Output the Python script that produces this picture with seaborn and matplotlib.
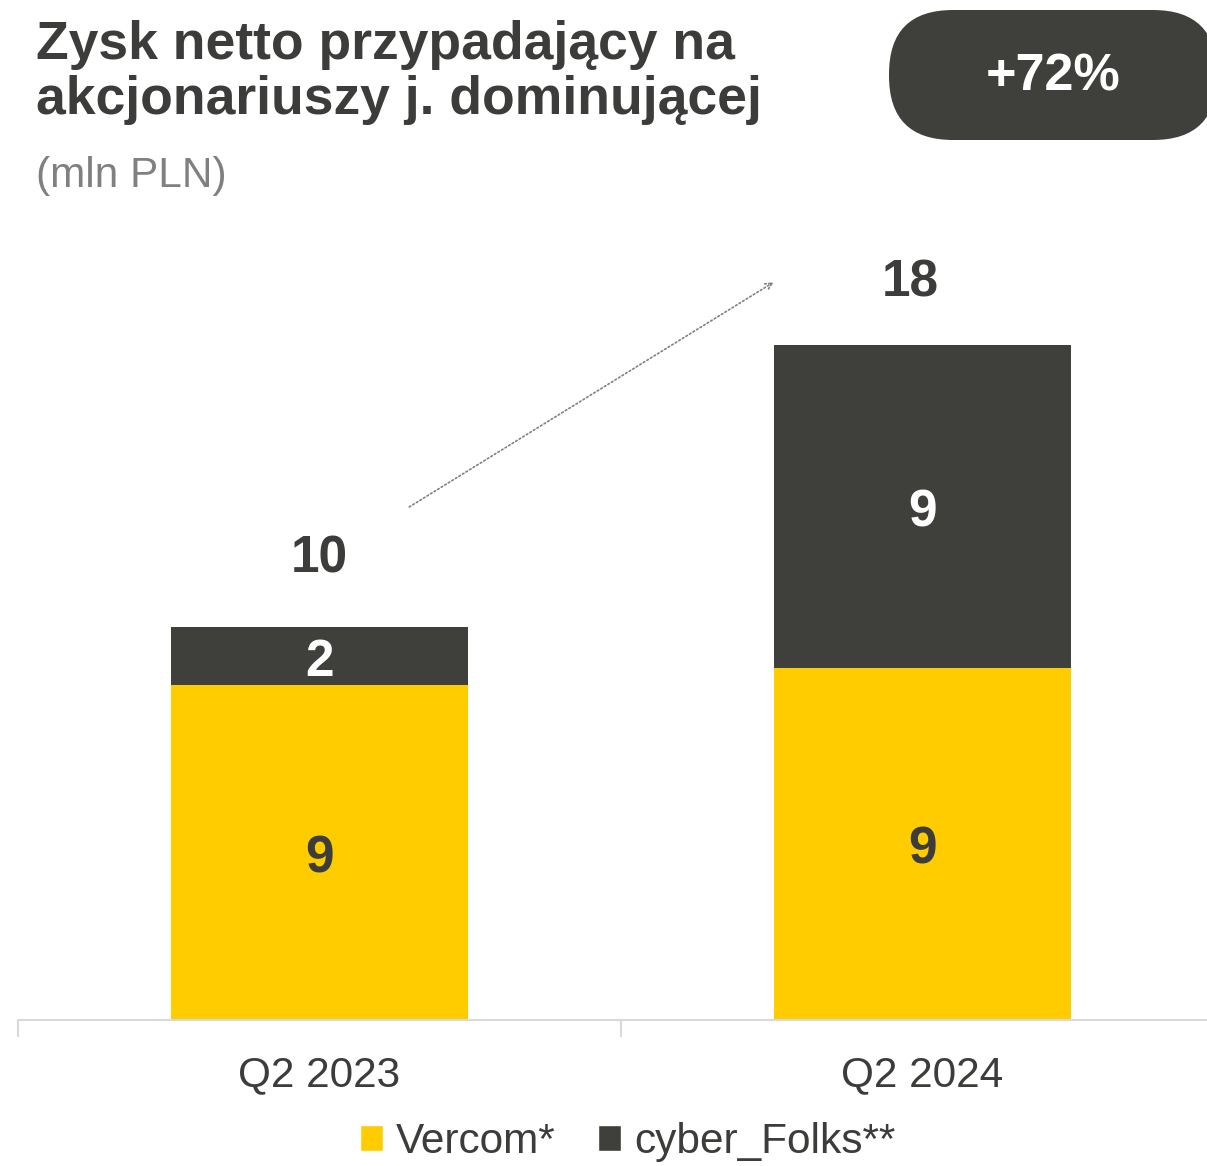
import matplotlib
matplotlib.use('Agg')
import matplotlib.pyplot as plt
import seaborn as sns
from matplotlib.patches import FancyBboxPatch, Patch

quarters = ['Q2 2023', 'Q2 2024']
vercom = [8.9, 9.35]
cyber_folks = [1.55, 8.6]
vercom_labels = ['9', '9']
cyber_labels = ['2', '9']
total_labels = ['10', '18']
growth_label = '+72%'

YELLOW = '#FFCC00'
DARK = '#3F403B'
TEXT = '#3C3C3A'

sns.set_theme(style='white')
plt.rcParams['font.family'] = ['Liberation Sans', 'DejaVu Sans']

totals = [v + c for v, c in zip(vercom, cyber_folks)]

fig = plt.figure(figsize=(12.07, 11.66), dpi=100)
ax = fig.add_axes([18 / 1207, 146 / 1166, 1206 / 1207, 790 / 1166])

sns.barplot(x=quarters, y=totals, color=DARK, width=0.493, saturation=1, linewidth=0, ax=ax)
sns.barplot(x=quarters, y=vercom, color=YELLOW, width=0.493, saturation=1, linewidth=0, ax=ax)

ax.set_xlim(-0.5, 1.5)
ax.set_ylim(0, 21)
for s in ['top', 'right', 'left']:
    ax.spines[s].set_visible(False)
ax.spines['bottom'].set_color('#D9D9D9')
ax.spines['bottom'].set_linewidth(1.5)
ax.set_yticks([])
ax.set_xlabel('')
ax.set_ylabel('')
ax.set_xticks([0, 1])
ax.set_xticklabels(quarters, fontsize=30.5, color=TEXT)
ax.tick_params(axis='x', which='major', length=0, pad=25)
ax.set_xticks([-0.5, 0.5, 1.5], minor=True)
ax.tick_params(axis='x', which='minor', bottom=True, length=12, color='#D9D9D9', width=1.5)

lab_off = 0.16
for i in range(len(quarters)):
    ax.text(i, vercom[i] / 2 - lab_off, vercom_labels[i], ha='center', va='center',
            fontsize=37, fontweight='bold', color=TEXT)
    ax.text(i, vercom[i] + cyber_folks[i] / 2 - lab_off, cyber_labels[i], ha='center', va='center',
            fontsize=37, fontweight='bold', color='white')
ax.text(0, totals[0] + 1.15, total_labels[0], ha='center', va='bottom',
        fontsize=37, fontweight='bold', color=TEXT)
ax.text(0.98, totals[1] + 1.0, total_labels[1], ha='center', va='bottom',
        fontsize=37, fontweight='bold', color=TEXT)

# dotted growth arrow
ax.annotate('', xy=(0.757, 19.65), xytext=(0.145, 13.6),
            arrowprops=dict(arrowstyle='->', linestyle=(0, (1, 1.5)), color='#808080', lw=1.2))

# title and subtitle
fig.text(36 / 1207, 1 - 20 / 1166, 'Zysk netto przypadający na\nakcjonariuszy j. dominującej',
         ha='left', va='top', fontsize=38.5, fontweight='bold', color=TEXT, linespacing=1.14)
fig.text(36 / 1207, 1 - 176 / 1166, '(mln PLN)', ha='left', va='center',
         fontsize=30.5, color='#808080')

# growth pill, drawn in pixel coordinates
pill = FancyBboxPatch((889, 1166 - 140), 328, 130,
                      boxstyle='round,pad=0,rounding_size=64', transform=None,
                      facecolor=DARK, edgecolor='none')
fig.patches.append(pill)
fig.text(1053 / 1207, 1 - 77 / 1166, growth_label, ha='center', va='center',
         fontsize=37.5, fontweight='bold', color='white')

handles = [Patch(facecolor=YELLOW, label='Vercom*'),
           Patch(facecolor=DARK, label='cyber_Folks**')]
fig.legend(handles=handles, loc='center', bbox_to_anchor=(0.52, 1 - 1142 / 1166), ncol=2,
           frameon=False, fontsize=30.5, handlelength=0.55, handleheight=0.55,
           handletextpad=0.3, columnspacing=1.0, labelcolor=TEXT)

fig.savefig('out.png', dpi=100)
